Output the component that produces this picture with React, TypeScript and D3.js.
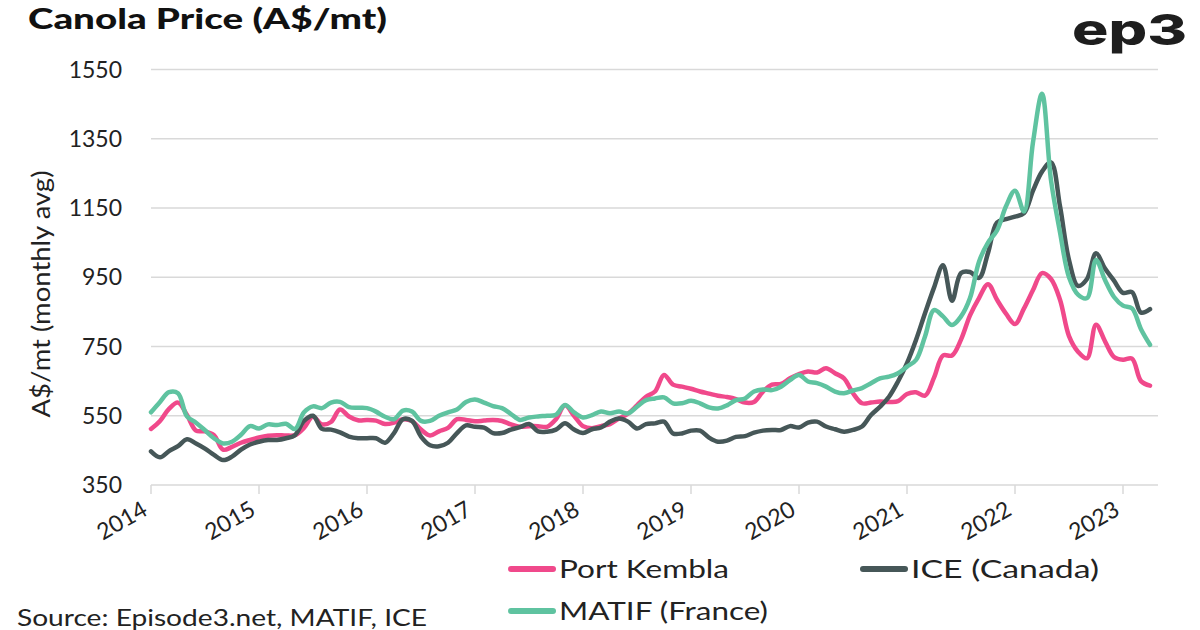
import React from "react";
import * as d3 from "d3";

const START_YEAR = 2014;
const yearTicks = [2014, 2015, 2016, 2017, 2018, 2019, 2020, 2021, 2022, 2023];
const yTicks = [350, 550, 750, 950, 1150, 1350, 1550];

// Monthly averages, Jan 2014 .. Apr 2023 (A$/mt)
const portKembla = [
  512, 535, 570, 588, 552, 507, 505, 494, 452, 460, 472, 480,
  487, 492, 494, 493, 494, 515, 548, 525, 532, 568, 548, 537,
  538, 536, 526, 530, 540, 535, 510, 493, 505, 515, 540, 538,
  534, 536, 538, 535, 525, 518, 520, 520, 518, 540, 580, 550,
  520, 514, 520, 526, 542, 556, 580, 605, 620, 668, 640, 634,
  628, 620, 614, 608, 604, 598, 588, 590, 620, 640, 642, 658,
  670, 678, 675, 687, 673, 658, 615, 586, 588, 591, 590, 592,
  613, 618, 608, 660, 724, 724, 770, 840, 890, 930, 885, 845,
  815, 860, 913, 962, 945, 885, 780, 735, 716, 813, 765, 720,
  712, 715, 650, 637,
];
const ice = [
  447, 430, 448, 462, 482, 470, 455, 437, 422, 432, 452, 467,
  475, 480, 480, 485, 494, 535, 550, 512, 510, 502, 490, 485,
  485, 485, 472, 500, 540, 535, 490, 465, 462, 472, 500, 522,
  518, 516, 500, 500, 510, 517, 526, 505, 504, 510, 528, 510,
  500, 511, 516, 533, 542, 533, 513, 526, 528, 533, 499, 499,
  507, 507, 487, 475, 478, 489, 491, 501, 507, 509, 509, 520,
  516, 530, 533, 519, 511, 504, 509, 519, 552, 576, 605, 649,
  702, 769, 846, 920, 985, 882, 962, 965, 948, 1020, 1108, 1118,
  1125, 1135, 1200, 1255, 1282, 1155, 1000, 925, 945, 1019, 975, 940,
  905, 907, 848, 858,
];
const matif = [
  560, 590, 618, 615, 548, 530, 508, 485, 470, 475, 495, 520,
  513, 525, 523, 527, 512, 560, 577, 572, 588, 590, 575, 573,
  572, 562, 547, 540, 565, 562, 535, 535, 550, 560, 568, 590,
  597, 588, 578, 572, 555, 538, 545, 548, 550, 553, 581, 560,
  545, 552, 562, 557, 562, 557, 576, 595, 600, 603, 586, 586,
  593, 586, 574, 571, 580, 595, 600, 620, 626, 624, 634, 653,
  668, 649, 644, 634, 620, 615, 623, 630, 644, 658, 663, 673,
  692, 711, 779, 855, 837, 812, 837, 890, 995, 1050, 1085, 1155,
  1200, 1140, 1340, 1480, 1230, 1080, 950, 900, 890, 1000, 942, 893,
  868, 860, 800, 755,
];

const seriesNames = ["Port Kembla", "ICE (Canada)", "MATIF (France)"];
const seriesColors = ["#f0498b", "#465758", "#5fc3a0"];

const FONT = "Lato, 'Open Sans', sans-serif";

export default function App() {
  const width = 1200;
  const height = 630;
  const x = d3.scaleLinear().domain([2014, 2023.324]).range([151, 1158]);
  const y = d3.scaleLinear().domain([350, 1550]).range([485, 69.5]);
  const line = d3
    .line<number>()
    .x((_, i) => x(START_YEAR + i / 12))
    .y((d) => y(d))
    .curve(d3.curveCatmullRom.alpha(0.5));

  const series = [portKembla, ice, matif];
  const drawOrder = [0, 1, 2];

  return (
    <svg
      width={width}
      height={height}
      style={{ position: "absolute", left: 0, top: 0, background: "#fff" }}
    >
      <rect x={0} y={0} width={width} height={height} fill="#fff" />
      {/* Title */}
      <text
        x={28}
        y={29}
        fontFamily={FONT}
        fontWeight={900}
        fontSize={29}
        fill="#111"
        textLength={359}
        lengthAdjust="spacingAndGlyphs"
      >
        Canola Price (A$/mt)
      </text>
      {/* Logo */}
      <text
        x={1072}
        y={45}
        fontFamily="Inter, Lato, sans-serif"
        fontWeight={800}
        fontSize={43}
        fill="#1e1e1e"
        textLength={115}
        lengthAdjust="spacingAndGlyphs"
      >
        ep3
      </text>

      {/* Gridlines */}
      {yTicks.map((t) => (
        <line
          key={t}
          x1={x(2014)}
          x2={x(2023.324)}
          y1={y(t)}
          y2={y(t)}
          stroke="#d9d9d9"
          strokeWidth={1.5}
        />
      ))}
      {/* X ticks */}
      {yearTicks.map((yr) => (
        <line
          key={yr}
          x1={x(yr)}
          x2={x(yr)}
          y1={y(350)}
          y2={y(350) + 9}
          stroke="#d9d9d9"
          strokeWidth={1.5}
        />
      ))}
      {/* Y tick labels */}
      {yTicks.map((t) => (
        <text
          key={t}
          x={122}
          y={y(t) + 8}
          textAnchor="end"
          fontFamily={FONT}
          fontSize={23}
          fill="#222"
        >
          {t}
        </text>
      ))}
      {/* X tick labels */}
      {yearTicks.map((yr) => (
        <text
          key={yr}
          transform={`translate(${x(yr) - 2},${514}) rotate(-30)`}
          textAnchor="end"
          fontFamily={FONT}
          fontSize={23}
          fill="#222"
        >
          {yr}
        </text>
      ))}
      {/* Y axis title */}
      <text
        transform={`translate(50,294) rotate(-90)`}
        textAnchor="middle"
        fontFamily={FONT}
        fontSize={25}
        fill="#222"
        textLength={247}
        lengthAdjust="spacingAndGlyphs"
      >
        A$/mt (monthly avg)
      </text>

      {/* Lines */}
      {drawOrder.map((i) => (
        <path
          key={i}
          d={line(series[i]) || ""}
          fill="none"
          stroke={seriesColors[i]}
          strokeWidth={4.5}
          strokeLinejoin="round"
          strokeLinecap="round"
        />
      ))}

      {/* Legend */}
      {[
        { i: 0, lx: 508, ly: 569, w: 170 },
        { i: 1, lx: 860, ly: 569, w: 188 },
        { i: 2, lx: 508, ly: 611, w: 209 },
      ].map(({ i, lx, ly, w }) => (
        <g key={i}>
          <line
            x1={lx + 3}
            x2={lx + 45}
            y1={ly}
            y2={ly}
            stroke={seriesColors[i]}
            strokeWidth={6}
            strokeLinecap="round"
          />
          <text
            x={lx + 51}
            y={ly + 9}
            fontFamily={FONT}
            fontSize={25}
            fill="#222"
            textLength={w}
            lengthAdjust="spacingAndGlyphs"
          >
            {seriesNames[i]}
          </text>
        </g>
      ))}

      {/* Source */}
      <text
        x={17}
        y={626}
        fontFamily={FONT}
        fontSize={23}
        fill="#222"
        textLength={410}
        lengthAdjust="spacingAndGlyphs"
      >
        Source: Episode3.net, MATIF, ICE
      </text>
    </svg>
  );
}
